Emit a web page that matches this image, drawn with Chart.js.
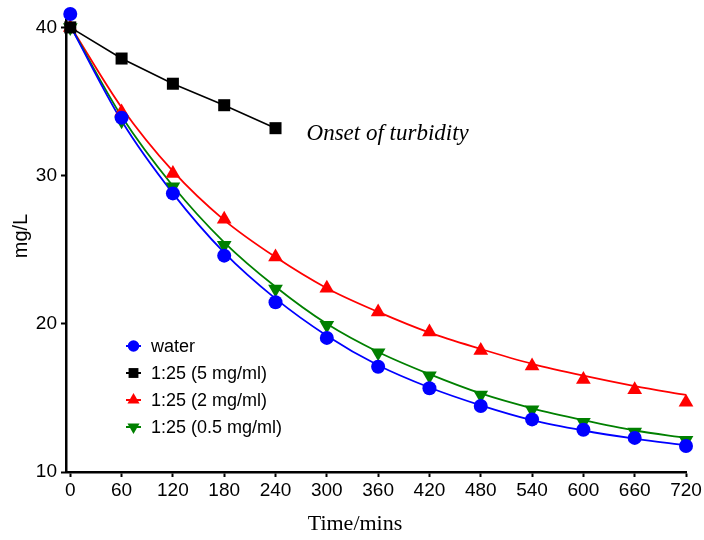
<!DOCTYPE html>
<html>
<head>
<meta charset="utf-8">
<script src="https://cdn.jsdelivr.net/npm/chart.js@4"></script>
<style>
  body { margin: 0; background: #fff; }
</style>
</head>
<body>
<canvas id="myChart" width="704" height="540"></canvas>
<script>
// sampling times (mins)
var times = [0, 60, 120, 180, 240, 300, 360, 420, 480, 540, 600, 660, 720];
var xTicks = [0, 60, 120, 180, 240, 300, 360, 420, 480, 540, 600, 660, 720];
var yTicks = [10, 20, 30, 40];

// measured values (mg/L)
var water  = [40.9, 33.9, 28.8, 24.6, 21.45, 19.05, 17.1, 15.65, 14.45, 13.55, 12.85, 12.3, 11.75];
var fiveMg = [40.0, 37.9, 36.2, 34.75, 33.2];
var twoMg  = [40.0, 34.3, 30.15, 27.05, 24.5, 22.4, 20.8, 19.45, 18.2, 17.15, 16.25, 15.55, 14.7];
var halfMg = [40.0, 33.7, 29.25, 25.3, 22.35, 19.9, 18.05, 16.5, 15.2, 14.2, 13.35, 12.7, 12.15];

// fitted curves
var waterFit  = [40.1, 33.7, 28.8, 24.8, 21.7, 19.2, 17.2, 15.7, 14.5, 13.5, 12.8, 12.25, 11.8];
var twoMgFit  = [40.1, 34.6, 30.3, 27.0, 24.5, 22.4, 20.8, 19.4, 18.3, 17.3, 16.5, 15.8, 15.2];
var halfMgFit = [40.1, 34.0, 29.3, 25.5, 22.5, 20.0, 18.1, 16.6, 15.3, 14.3, 13.5, 12.8, 12.3];

var labels = ['water', '1:25 (5 mg/ml)', '1:25 (2 mg/ml)', '1:25 (0.5 mg/ml)'];
var colors = ['#0000ff', '#000000', '#ff0000', '#008000'];
var markers = [
    { pointStyle: 'circle', radius: 7, rotation: 0 },
    { pointStyle: 'rect', radius: 8.5, rotation: 0 },
    { pointStyle: 'triangle', radius: 8.5, rotation: 0 },
    { pointStyle: 'triangle', radius: 8.5, rotation: 180 }
];

function pts(arr) {
    return arr.map(function (v, i) { return { x: times[i], y: v }; });
}

function pointSet(i, arr, showLine) {
    return {
        label: labels[i],
        data: pts(arr),
        showLine: showLine,
        borderColor: colors[i],
        backgroundColor: colors[i],
        borderWidth: 1.6,
        pointStyle: markers[i].pointStyle,
        pointRadius: markers[i].radius,
        pointRotation: markers[i].rotation,
        pointBorderWidth: 0,
        clip: false
    };
}

function fitSet(i, arr) {
    return {
        label: labels[i] + ' fit',
        data: pts(arr),
        showLine: true,
        borderColor: colors[i],
        borderWidth: 1.8,
        pointRadius: 0,
        cubicInterpolationMode: 'monotone',
        clip: false
    };
}

var serif = "'Liberation Serif', 'Times New Roman', serif";
var sans = "'Liberation Sans', Arial, sans-serif";

var extras = {
    id: 'extras',
    afterDraw: function (chart) {
        var ctx = chart.ctx;
        var xs = chart.scales.x;
        ctx.save();
        // axis titles
        ctx.fillStyle = '#000';
        ctx.textAlign = 'center';
        ctx.textBaseline = 'middle';
        ctx.font = '22px ' + serif;
        ctx.fillText('Time/mins', 355, 524);
        ctx.save();
        ctx.translate(21, 236);
        ctx.rotate(-Math.PI / 2);
        ctx.font = '20px ' + sans;
        ctx.fillText('mg/L', 0, 0);
        ctx.restore();

        // annotation
        ctx.font = 'italic 23px ' + serif;
        ctx.textAlign = 'left';
        ctx.textBaseline = 'alphabetic';
        ctx.fillText('Onset of turbidity', xs.getPixelForValue(240) + 31, 140);

        // legend
        var rows = [346, 373, 400, 427];
        ctx.font = '18px ' + sans;
        ctx.textBaseline = 'middle';
        for (var i = 0; i < labels.length; i++) {
            var y = rows[i];
            ctx.strokeStyle = colors[i];
            ctx.fillStyle = colors[i];
            ctx.lineWidth = 2;
            ctx.beginPath();
            ctx.moveTo(126, y);
            ctx.lineTo(141, y);
            ctx.stroke();
            Chart.helpers.drawPoint(ctx, {
                pointStyle: markers[i].pointStyle,
                radius: markers[i].radius * 0.82,
                rotation: markers[i].rotation,
                borderWidth: 0
            }, 133.5, y);
            ctx.fillStyle = '#000';
            ctx.fillText(labels[i], 151, y + 1);
        }
        ctx.restore();
    }
};

var ctx = document.getElementById('myChart').getContext('2d');
var myChart = new Chart(ctx, {
    type: 'scatter',
    data: {
        datasets: [
            pointSet(0, water, false),
            pointSet(1, fiveMg, true),
            pointSet(3, halfMg, false),
            pointSet(2, twoMg, false),
            fitSet(0, waterFit),
            fitSet(3, halfMgFit),
            fitSet(2, twoMgFit)
        ]
    },
    options: {
        responsive: false,
        animation: false,
        layout: { padding: { top: 20, right: 18, left: 0, bottom: 0 } },
        plugins: {
            legend: { display: false },
            tooltip: { enabled: false }
        },
        scales: {
            x: {
                type: 'linear',
                min: -5,
                max: 720,
                afterBuildTicks: function (s) {
                    s.ticks = xTicks.map(function (v) { return { value: v }; });
                },
                afterFit: function (s) { s.height = 68; },
                ticks: {
                    color: '#000',
                    font: { family: sans, size: 19 },
                    padding: 2,
                    maxRotation: 0,
                    autoSkip: false
                },
                grid: {
                    drawOnChartArea: false,
                    tickLength: 5,
                    tickWidth: 2,
                    tickColor: '#000'
                },
                border: { color: '#000', width: 2.5 }
            },
            y: {
                min: 10,
                max: 40.5,
                afterBuildTicks: function (s) {
                    s.ticks = yTicks.map(function (v) { return { value: v }; });
                },
                afterFit: function (s) { s.width = 66; },
                ticks: {
                    color: '#000',
                    font: { family: sans, size: 19 },
                    padding: 4
                },
                grid: {
                    drawOnChartArea: false,
                    tickLength: 5,
                    tickWidth: 2,
                    tickColor: '#000'
                },
                border: { color: '#000', width: 2.5 }
            }
        }
    },
    plugins: [extras]
});
</script>
</body>
</html>
